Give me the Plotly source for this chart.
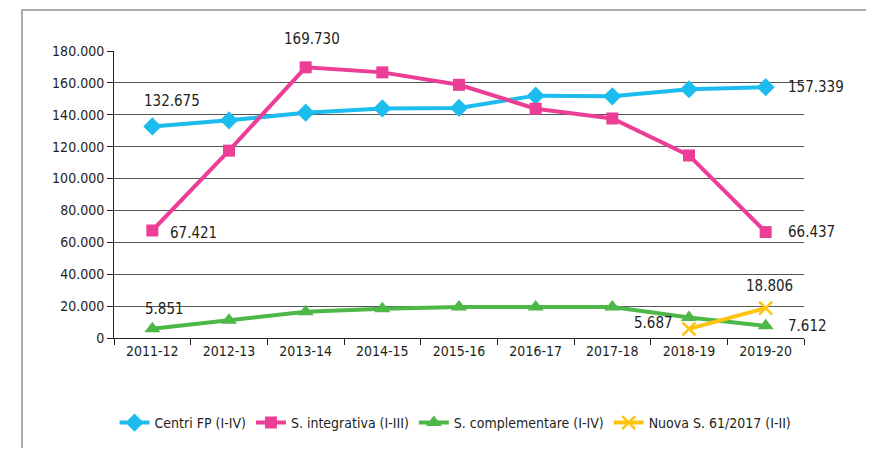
import plotly.graph_objects as go

categories = ["2011-12", "2012-13", "2013-14", "2014-15", "2015-16", "2016-17", "2017-18", "2018-19", "2019-20"]
centri_fp = [132675, 136500, 141300, 144000, 144300, 152000, 151600, 156000, 157339]
s_integrativa = [67421, 117500, 169730, 166600, 158800, 143800, 137700, 114500, 66437]
s_complementare = [5851, 11100, 16500, 18400, 19400, 19500, 19400, 12900, 7612]
nuova_s = [None, None, None, None, None, None, None, 5687, 18806]

names = ["Centri FP (I-IV)", "S. integrativa (I-III)", "S. complementare (I-IV)", "Nuova S. 61/2017 (I-II)"]
colors = ["#1CBDEE", "#EC3E96", "#4DB848", "#FFC20E"]
symbols = ["diamond", "square", "triangle-up", "x-thin"]
sizes = [14, 12, 14, 13]
series = [centri_fp, s_integrativa, s_complementare, nuova_s]

FONT = "DejaVu Sans Condensed, Roboto, Arial, sans-serif"

fig = go.Figure()
for name, vals, col, sym, sz in zip(names, series, colors, symbols, sizes):
    marker = dict(symbol=sym, size=sz, color=col)
    if sym == "x-thin":
        marker["line"] = dict(color=col, width=2.5)
    fig.add_trace(go.Scatter(
        x=categories, y=vals, name=name, mode="lines+markers",
        line=dict(color=col, width=4), marker=marker,
    ))

# data labels: (series, index, xanchor, xshift, yshift)
label_specs = [
    (centri_fp, 0, "center", 20, 25),
    (centri_fp, 8, "left", 20, 0),
    (s_integrativa, 0, "left", 16, -2),
    (s_integrativa, 2, "center", 6, 28),
    (s_integrativa, 8, "left", 20, 0),
    (s_complementare, 0, "center", 12, 20),
    (s_complementare, 8, "left", 20, 0),
    (nuova_s, 7, "right", -14, 6),
    (nuova_s, 8, "center", 4, 22),
]
for arr, i, xa, xs, ys in label_specs:
    v = arr[i]
    txt = f"{v:,}".replace(",", ".")
    fig.add_annotation(x=categories[i], y=v, text=txt, showarrow=False,
                       xanchor=xa, yanchor="middle", xshift=xs, yshift=ys,
                       font=dict(size=15, color="#231F20", family=FONT))

# outer frame: only the top and left edges are drawn
fig.add_shape(type="path", xref="paper", yref="paper",
              path="M -0.1333,-0.5 L -0.1333,1.1429 L 1.2,1.1429",
              line=dict(color="#AAAAAA", width=2), layer="below")

fig.update_layout(
    width=858, height=440,
    margin=dict(l=106, r=62, t=43, b=110, autoexpand=False),
    paper_bgcolor="white", plot_bgcolor="white",
    separators=",.",
    font=dict(family=FONT, size=14, color="#231F20"),
    showlegend=True,
    legend=dict(orientation="h", x=0.495, xanchor="center", y=-0.296, yanchor="middle",
                font=dict(size=14, color="#231F20", family=FONT), itemwidth=30,
                tracegroupgap=0),
    xaxis=dict(type="category", range=[-0.5, 8.5], showline=True, linecolor="#231F20", linewidth=1,
               ticks="outside", tickson="boundaries", ticklen=6, tickcolor="#231F20",
               showgrid=False, tickfont=dict(size=14), automargin=False),
    yaxis=dict(range=[0, 180000], dtick=20000, tickformat=",.0f", showline=True,
               linecolor="#231F20", linewidth=1, ticks="outside", ticklen=6, tickcolor="#231F20",
               showgrid=True, gridcolor="#555555", gridwidth=1, zeroline=False,
               tickfont=dict(size=14), automargin=False),
)

fig.write_html("out.html")
